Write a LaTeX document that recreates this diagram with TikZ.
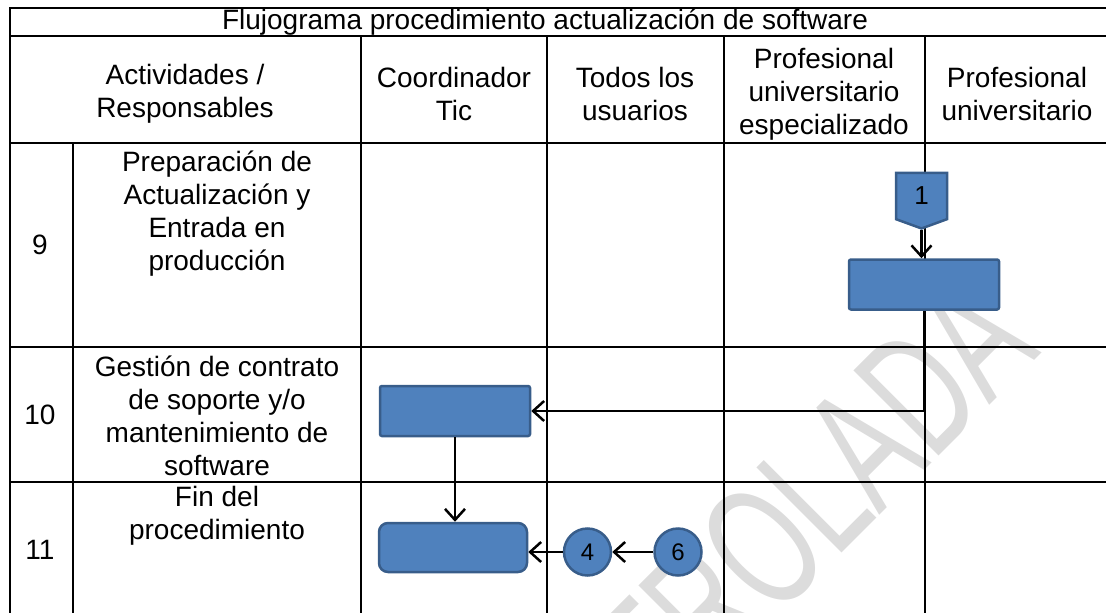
\documentclass[tikz,border=0pt]{standalone}
\usepackage{fontspec}
\setmainfont{Liberation Sans}
\usetikzlibrary{positioning, arrows.meta, shapes.symbols}

\definecolor{azul}{RGB}{79,129,189}
\definecolor{bordeazul}{RGB}{56,93,138}
\definecolor{marcagris}{RGB}{220,220,220}

\begin{document}
\begin{tikzpicture}[x=1pt, y=-1pt, >={Straight Barb[length=11pt,width=20pt]},
    tabla/.style={line width=1.6pt},
    texto/.style={align=center, inner sep=0pt, font=\fontsize{28}{33}\selectfont},
    caja/.style={draw=bordeazul, fill=azul, line width=2.5pt, minimum width=150pt, minimum height=50pt},
    circ/.style={circle, draw=bordeazul, fill=azul, line width=2.5pt, minimum size=47pt, inner sep=0pt, font=\fontsize{24}{24}\selectfont},
    flecha/.style={->, line width=2.5pt}]
  \useasboundingbox (0,0) rectangle (1106,613);
  \clip (0,0) rectangle (1106,613);

  % marca de agua
  \node[marcagris, rotate=45, anchor=base east, inner sep=0pt, font=\fontsize{175}{175}\selectfont] (marca) at (1043,352) {\scalebox{0.64}[1]{COPIA NO CONTROLADA}};

  % tabla
  \draw[tabla] (1110,8) -- (10,8) -- (10,620);
  \foreach \y in {36,143,347,482}
    \draw[tabla] (10,\y) -- (1110,\y);
  \draw[tabla] (73,143) -- (73,620);
  \foreach \x in {361,547,724,925}
    \draw[tabla] (\x,36) -- (\x,620);

  % encabezados
  \node[texto] (titulo) at (545,22) {Flujograma procedimiento actualización de software};
  \node[texto] (actividades) at (185,94) {Actividades /\\Responsables};
  \node[texto] (coord) at (454,94) {Coordinador\\Tic};
  \node[texto] (usuarios) at (635,94) {Todos los\\usuarios};
  \node[texto] (profesp) at (824,94) {Profesional\\universitario\\especializado};
  \node[texto] (prof) at (1017,94) {Profesional\\universitario};

  % filas
  \node[texto] (n9) at (40,245) {9};
  \node[texto] (n10) at (40,415) {10};
  \node[texto] (n11) at (40,550) {11};
  \node[texto] (act9) at (217,214) {Preparación de\\Actualización y\\Entrada en\\producción};
  \node[texto] (act10) at (217,416) {Gestión de contrato\\de soporte y/o\\mantenimiento de\\software};
  \node[texto] (act11) at (217,516) {Fin del\\procedimiento};

  % flujo
  \node[signal, signal to=south, signal pointer angle=140, draw=bordeazul, fill=azul, line width=2.5pt,
        minimum width=51pt, minimum height=49pt, inner sep=0pt, font=\fontsize{26}{26}\selectfont] (c1) at (921.5,196) {1};
  \node[caja, rounded corners=2pt] (r1) at (924,284.5) {};
  \node[caja, rounded corners=2pt] (r2) at (455,411) {};
  \node[caja, rounded corners=9pt, minimum width=148pt, minimum height=49pt] (r3) at (453,547.5) {};
  \node[circ] (c6) at (678,552) {6};
  \node[circ, left=41pt of c6] (c4) {4};

  \draw[flecha] (c1.south) -- (c1.south |- r1.north);
  \draw[flecha] (r1.south) |- (r2.east);
  \draw[flecha] (r2.south) -- (r2.south |- r3.north);
  \draw[flecha] (c6) -- (c4);
  \draw[flecha] (c4.west) -- (c4.west -| r3.east);
\end{tikzpicture}
\end{document}
